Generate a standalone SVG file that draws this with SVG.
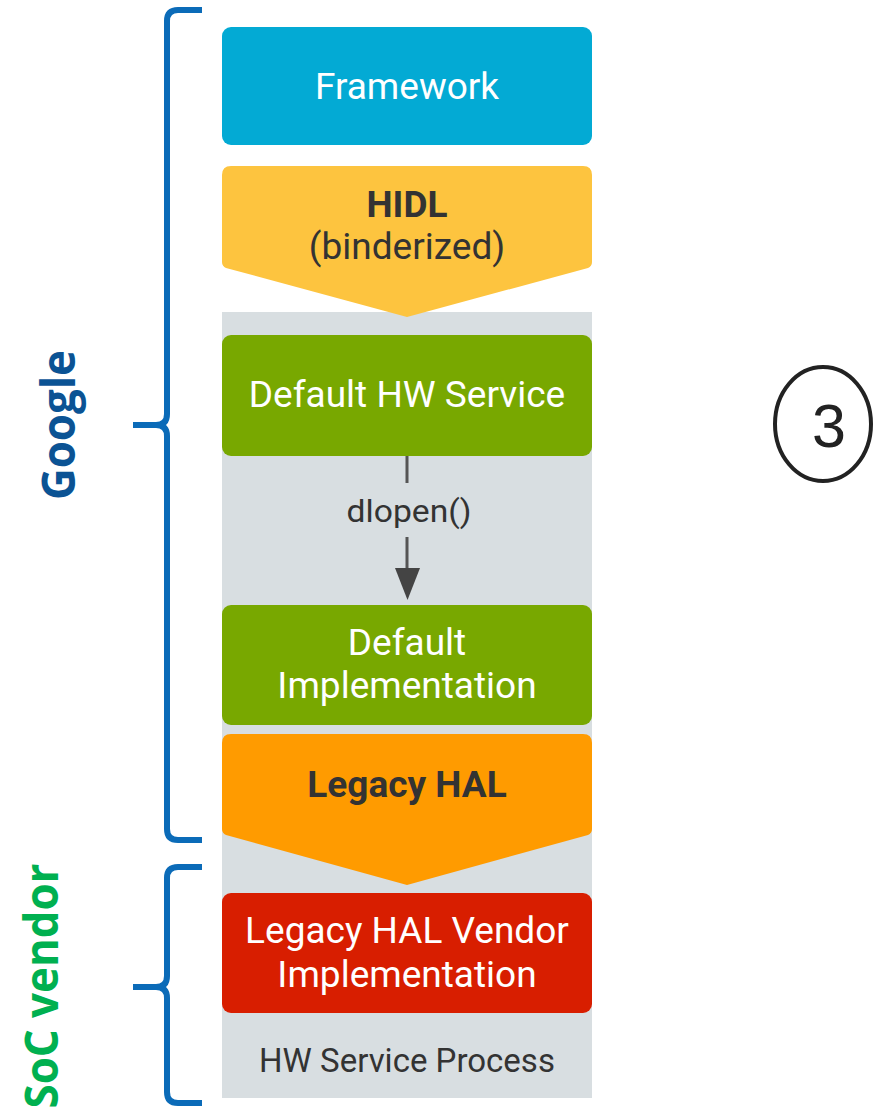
<svg xmlns="http://www.w3.org/2000/svg" width="874" height="1108" viewBox="0 0 874 1108">
<defs>
<style>
.lbl{font-family:Roboto,"Liberation Sans",sans-serif;font-size:37px;text-anchor:middle}
.w{fill:#ffffff}
.d{fill:#333333}
.b{font-weight:bold}
.brace{fill:none;stroke:#0b6bb8;stroke-width:6;stroke-linejoin:round}
.side{font-family:"Open Sans","Liberation Sans",sans-serif;font-weight:bold;font-size:46px;text-anchor:middle}
</style>
</defs>
<rect x="0" y="0" width="874" height="1108" fill="#ffffff"/>
<rect id="process" x="222" y="312" width="370" height="786" fill="#d8dee1"/>
<g id="framework">
<rect x="222" y="27" width="370" height="118" rx="9" fill="#03aad4"/>
<text class="lbl w" x="407" y="99">Framework</text>
</g>
<g id="hidl">
<path d="M231,166 H583 Q592,166 592,175 V262 Q592,266 588,268 L407,317 L226,268 Q222,266 222,262 V175 Q222,166 231,166 Z" fill="#fdc43f"/>
<text class="lbl d b" x="407" y="217">HIDL</text>
<text class="lbl d" x="407" y="259">(binderized)</text>
</g>
<g id="default-hw-service">
<rect x="222" y="335" width="370" height="121" rx="9" fill="#78a800"/>
<text class="lbl w" x="407" y="407">Default HW Service</text>
</g>
<g id="connectors">
<line x1="407" y1="456" x2="407" y2="483" stroke="#555555" stroke-width="3"/>
<line x1="407" y1="537" x2="407" y2="568" stroke="#555555" stroke-width="3"/>
<path d="M395,568 L420,568 L407.5,600 Z" fill="#444444"/>
<text class="lbl d" x="409" y="522" style="font-size:31px" textLength="125" lengthAdjust="spacingAndGlyphs">dlopen()</text>
</g>
<g id="default-implementation">
<rect x="222" y="605" width="370" height="120" rx="9" fill="#78a800"/>
<text class="lbl w" x="407" y="655">Default</text>
<text class="lbl w" x="407" y="698">Implementation</text>
</g>
<g id="legacy-hal">
<path d="M231,734 H583 Q592,734 592,743 V829 Q592,833 588,835 L407,885 L226,835 Q222,833 222,829 V743 Q222,734 231,734 Z" fill="#ff9b00"/>
<text class="lbl d b" x="407" y="797">Legacy HAL</text>
</g>
<g id="legacy-hal-vendor">
<rect x="222" y="893" width="370" height="120" rx="9" fill="#d81e00"/>
<text class="lbl w" x="407" y="943">Legacy HAL Vendor</text>
<text class="lbl w" x="407" y="987">Implementation</text>
</g>
<g id="hw-service-process-label">
<text class="lbl d" x="407" y="1072" style="font-size:33px">HW Service Process</text>
</g>
<g id="google-brace">
<path class="brace" d="M202,10 H178 Q167,10 167,21 V414 Q167,425 156,425 H133 M156,425 Q167,425 167,436 V829 Q167,840 178,840 H202"/>
<text class="side" fill="#0b5394" transform="translate(75,425) rotate(-90)" textLength="150" lengthAdjust="spacingAndGlyphs">Google</text>
</g>
<g id="soc-brace">
<path class="brace" d="M202,867 H178 Q167,867 167,878 V976 Q167,987 156,987 H133 M156,987 Q167,987 167,998 V1092 Q167,1103 178,1103 H202"/>
<text class="side" fill="#00b050" transform="translate(58,986) rotate(-90)" textLength="245" lengthAdjust="spacingAndGlyphs">SoC vendor</text>
</g>
<g id="step-3">
<ellipse cx="823" cy="424" rx="48" ry="57" fill="none" stroke="#222222" stroke-width="4"/>
<text x="829" y="447" text-anchor="middle" font-family="Liberation Sans,sans-serif" font-size="61" fill="#222222">3</text>
</g>
</svg>
